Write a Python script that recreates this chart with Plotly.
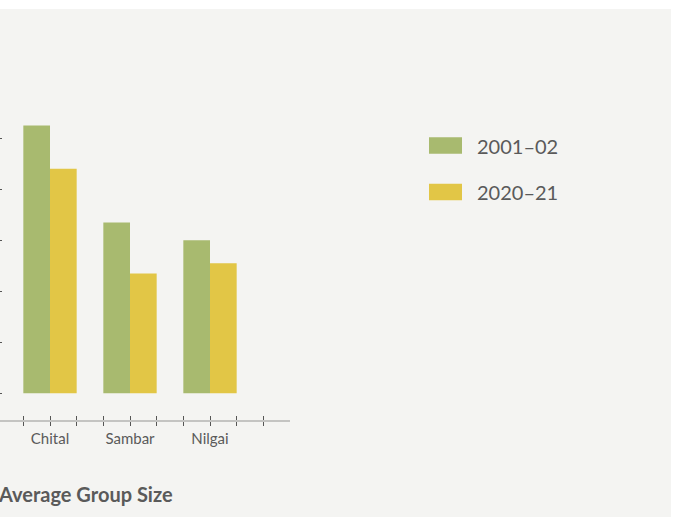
import plotly.graph_objects as go

categories = ["Chital", "Sambar", "Nilgai"]
series_names = ["2001–02", "2020–21"]
values_2001 = [10.5, 6.7, 6.0]
values_2020 = [8.8, 4.7, 5.1]
y_ticks = [0, 2, 4, 6, 8, 10]
title_text = "Average Group Size"

green = "#a8ba6f"
yellow = "#e2c646"
bg = "#f4f4f2"
txt = "#5a5a5a"
FONT = "Lato"

x_pos = list(range(len(categories)))
fig = go.Figure()
fig.add_trace(go.Bar(x=x_pos, y=values_2001, name=series_names[0], marker_color=green,
                     marker_line_width=0, showlegend=False))
fig.add_trace(go.Bar(x=x_pos, y=values_2020, name=series_names[1], marker_color=yellow,
                     marker_line_width=0, showlegend=False))

# ticks every 1/3 category
tickvals = [(-1 + k) / 3 for k in range(10)]
ticktext = []
for v in tickvals:
    r = round(v)
    if abs(v - r) < 1e-6 and 0 <= r < len(categories):
        ticktext.append(categories[r])
    else:
        ticktext.append("")

L, R, T, B = 0, 390, 100, 97
W, H = 680, 517
pw = W - L - R
ph = H - T - B

def px_x(p):
    return (p - L) / pw

def px_y(p):
    return (H - B - p) / ph

fig.update_layout(
    width=W, height=H,
    margin=dict(l=L, r=R, t=T, b=B, autoexpand=False),
    paper_bgcolor="white",
    plot_bgcolor=bg,
    barmode="group",
    bargap=1/3,
    bargroupgap=0,
    font=dict(family=FONT, color=txt),
    xaxis=dict(range=[-0.625, 3.0], tickmode="array", tickvals=tickvals, ticktext=ticktext,
               showline=True, linecolor="#c4c4c2", linewidth=1.5, showgrid=False, zeroline=False,
               ticks="outside", ticklen=4, tickcolor="#555", tickwidth=1, automargin=False,
               tickfont=dict(size=15, color=txt, family=FONT), ticklabelstandoff=0),
    xaxis2=dict(range=[-0.625, 3.0], overlaying="x", anchor="y", side="bottom",
                tickmode="array", tickvals=tickvals, ticktext=[""] * len(tickvals),
                ticks="inside", ticklen=4, tickcolor="#555", tickwidth=1, automargin=False,
                showline=False, showgrid=False, zeroline=False, showticklabels=False),
    yaxis=dict(range=[-1.047, 11.5], tickmode="array", tickvals=y_ticks, automargin=False,
               showticklabels=False, showgrid=False, zeroline=False, showline=False,
               ticks="inside", ticklen=2, tickcolor="#555", tickwidth=1),
)
# dummy trace to activate xaxis2
fig.add_trace(go.Scatter(x=[None], y=[None], xaxis="x2", showlegend=False, hoverinfo="skip"))

# gray panel background
fig.add_shape(type="rect", xref="paper", yref="paper", layer="below",
              x0=px_x(-5), x1=px_x(671), y0=px_y(522), y1=px_y(9),
              fillcolor=bg, line_width=0)

# manual legend
legend_items = [(series_names[0], green, 145.5), (series_names[1], yellow, 192)]
for name, col, cy in legend_items:
    fig.add_shape(type="rect", xref="paper", yref="paper",
                  x0=px_x(429), x1=px_x(462), y0=px_y(cy + 8.3), y1=px_y(cy - 8.3),
                  fillcolor=col, line_width=0)
    fig.add_annotation(xref="paper", yref="paper", x=px_x(477), y=px_y(cy),
                       text=name, showarrow=False, xanchor="left", yanchor="middle",
                       borderpad=0, borderwidth=0,
                       font=dict(size=20, color=txt, family=FONT))

fig.add_annotation(xref="paper", yref="paper", x=px_x(0), y=px_y(494), xshift=-2,
                   text="<b>" + title_text + "</b>", showarrow=False,
                   xanchor="left", yanchor="middle", borderpad=0, borderwidth=0,
                   font=dict(size=20, color=txt, family=FONT))

fig.write_html("out.html")
